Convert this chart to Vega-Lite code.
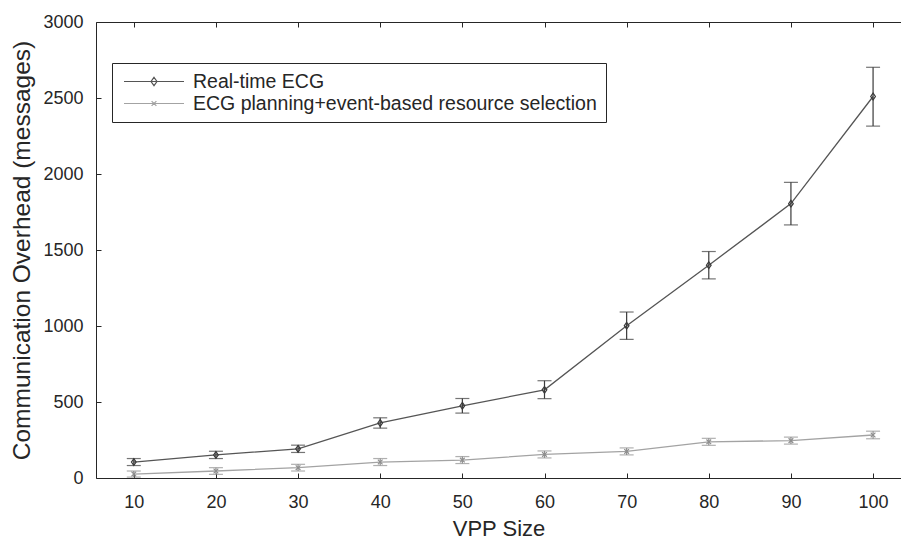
{
  "$schema": "https://vega.github.io/schema/vega-lite/v6.json",
  "autosize": "none",
  "width": 805,
  "height": 456,
  "padding": {"left": 96, "top": 22, "right": 0, "bottom": 63},
  "background": "white",
  "data": {"values": [
    {"x": 10, "y": 105, "lo": 82, "hi": 128, "s": "Real-time ECG"},
    {"x": 20, "y": 152, "lo": 128, "hi": 176, "s": "Real-time ECG"},
    {"x": 30, "y": 192, "lo": 168, "hi": 216, "s": "Real-time ECG"},
    {"x": 40, "y": 362, "lo": 328, "hi": 396, "s": "Real-time ECG"},
    {"x": 50, "y": 475, "lo": 427, "hi": 523, "s": "Real-time ECG"},
    {"x": 60, "y": 580, "lo": 522, "hi": 640, "s": "Real-time ECG"},
    {"x": 70, "y": 1002, "lo": 912, "hi": 1092, "s": "Real-time ECG"},
    {"x": 80, "y": 1400, "lo": 1310, "hi": 1490, "s": "Real-time ECG"},
    {"x": 90, "y": 1805, "lo": 1665, "hi": 1945, "s": "Real-time ECG"},
    {"x": 100, "y": 2510, "lo": 2315, "hi": 2702, "s": "Real-time ECG"},
    {"x": 10, "y": 26, "lo": 6, "hi": 46, "s": "ECG planning+event-based resource selection"},
    {"x": 20, "y": 46, "lo": 24, "hi": 68, "s": "ECG planning+event-based resource selection"},
    {"x": 30, "y": 68, "lo": 46, "hi": 90, "s": "ECG planning+event-based resource selection"},
    {"x": 40, "y": 105, "lo": 82, "hi": 128, "s": "ECG planning+event-based resource selection"},
    {"x": 50, "y": 118, "lo": 95, "hi": 141, "s": "ECG planning+event-based resource selection"},
    {"x": 60, "y": 155, "lo": 132, "hi": 178, "s": "ECG planning+event-based resource selection"},
    {"x": 70, "y": 175, "lo": 152, "hi": 198, "s": "ECG planning+event-based resource selection"},
    {"x": 80, "y": 238, "lo": 215, "hi": 261, "s": "ECG planning+event-based resource selection"},
    {"x": 90, "y": 246, "lo": 223, "hi": 269, "s": "ECG planning+event-based resource selection"},
    {"x": 100, "y": 283, "lo": 258, "hi": 308, "s": "ECG planning+event-based resource selection"}
  ]},
  "layer": [
    {
      "mark": {"type": "line", "strokeWidth": 1.3},
      "encoding": {
        "x": {"field": "x", "type": "quantitative", "scale": {"domain": [5.4, 103.4], "nice": false, "zero": false},
              "axis": {"orient": "bottom", "values": [10,20,30,40,50,60,70,80,90,100], "title": "VPP Size"}},
        "y": {"field": "y", "type": "quantitative", "title": "Communication Overhead (messages)", "scale": {"domain": [0, 3000], "nice": false},
              "axis": {"values": [0,500,1000,1500,2000,2500,3000], "format": "d", "title": "Communication Overhead (messages)"}},
        "color": {"field": "s", "type": "nominal",
                  "scale": {"domain": ["Real-time ECG", "ECG planning+event-based resource selection"], "range": ["#555555", "#a3a3a3"]},
                  "legend": null}
      }
    },
    {
      "mark": {"type": "errorbar", "ticks": {"size": 14}, "thickness": 1.2},
      "encoding": {
        "x": {"field": "x", "type": "quantitative", "axis": null},
        "y": {"field": "lo", "type": "quantitative", "title": "Communication Overhead (messages)"},
        "y2": {"field": "hi"},
        "color": {"field": "s", "type": "nominal",
                  "scale": {"domain": ["Real-time ECG", "ECG planning+event-based resource selection"], "range": ["#3a3a3a", "#8e8e8e"]},
                  "legend": null}
      }
    },
    {
      "mark": {"type": "point", "filled": false, "size": 45, "strokeWidth": 1.2, "opacity": 1},
      "encoding": {
        "x": {"field": "x", "type": "quantitative", "axis": null},
        "y": {"field": "y", "type": "quantitative", "title": "Communication Overhead (messages)"},
        "shape": {"field": "s", "type": "nominal",
                  "scale": {"domain": ["Real-time ECG", "ECG planning+event-based resource selection"],
                            "range": ["M0,-1L0.7,0L0,1L-0.7,0Z", "M-0.7,-0.7L0.7,0.7M-0.7,0.7L0.7,-0.7"]},
                  "legend": null},
        "color": {"field": "s", "type": "nominal",
                  "scale": {"domain": ["Real-time ECG", "ECG planning+event-based resource selection"], "range": ["#3a3a3a", "#8e8e8e"]},
                  "legend": null}
      }
    },
    {
      "transform": [{"filter": "datum.x < 0"}],
      "mark": {"type": "point", "filled": false, "size": 3600, "strokeWidth": 1.2, "opacity": 1},
      "encoding": {
        "x": {"field": "x", "type": "quantitative", "axis": {"orient": "top", "values": [10,20,30,40,50,60,70,80,90,100], "labels": false, "title": null}},
        "y": {"field": "y", "type": "quantitative", "title": "Communication Overhead (messages)"},
        "shape": {"field": "s", "type": "nominal",
                  "scale": {"domain": ["Real-time ECG", "ECG planning+event-based resource selection"],
                            "range": ["M-1,0H1M0,-0.14L0.1,0L0,0.14L-0.1,0Z", "M-1,0H1M-0.08,-0.08L0.08,0.08M-0.08,0.08L0.08,-0.08"]},
                  "legend": {"title": null}},
        "color": {"field": "s", "type": "nominal",
                  "scale": {"domain": ["Real-time ECG", "ECG planning+event-based resource selection"], "range": ["#555555", "#a3a3a3"]},
                  "legend": {"title": null}}
      }
    }
  ],
  "resolve": {
    "scale": {"color": "independent", "shape": "independent"},
    "legend": {"color": "independent", "shape": "independent"},
    "axis": {"x": "independent"}
  },
  "config": {
    "view": {"stroke": null},
    "axis": {
      "grid": false,
      "domainColor": "#262626",
      "domainWidth": 1,
      "tickColor": "#262626",
      "tickSize": -5,
      "labelFont": "Liberation Sans",
      "labelFontSize": 18,
      "labelColor": "#262626",
      "titleFont": "Liberation Sans",
      "titleFontSize": 22,
      "titleFontWeight": "normal",
      "titleColor": "#262626"
    },
    "axisX": {"titlePadding": 7, "labelPadding": 20},
    "axisY": {"titlePadding": 8, "labelPadding": 18, "titleFontSize": 24.5},
    "legend": {
      "orient": "none",
      "legendX": 16,
      "legendY": 41,
      "strokeColor": "#262626",
      "fillColor": "white",
      "padding": 8.5,
      "clipHeight": 20,
      "rowPadding": 2,
      "symbolSize": 3600,
      "symbolStrokeWidth": 1.2,
      "symbolOffset": 2.5,
      "labelOffset": 8,
      "labelFont": "Liberation Sans",
      "labelFontSize": 19.5,
      "labelColor": "#262626",
      "labelLimit": 700
    }
  }
}
